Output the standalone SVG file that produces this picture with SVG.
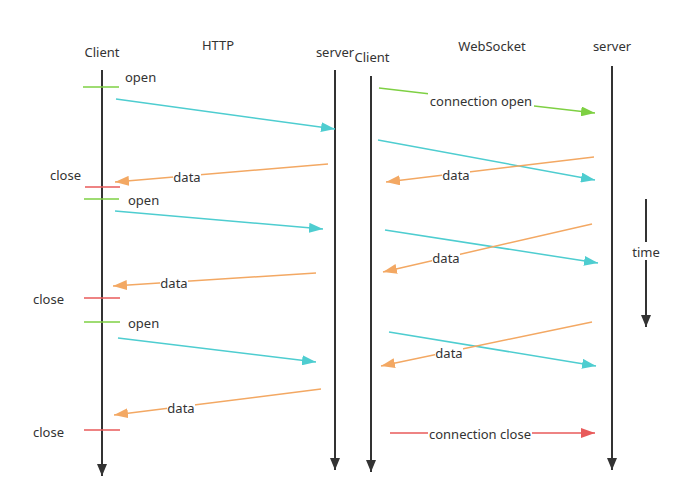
<svg xmlns="http://www.w3.org/2000/svg" width="687" height="497" viewBox="0 0 687 497">
<style>
text{font-family:"Noto Sans","Open Sans","Liberation Sans",sans-serif;font-size:13px;fill:#333}
.life{stroke:#333;stroke-width:2;fill:none}
.c{stroke:#4ECDD0;stroke-width:1.5;fill:none}
.o{stroke:#F3A863;stroke-width:1.5;fill:none}
.g{stroke:#7ED043;stroke-width:1.5;fill:none}
.r{stroke:#E85A5A;stroke-width:1.5;fill:none}
.bg{fill:#fff}
</style>
<defs>
<marker id="ad" viewBox="0 0 12 10" refX="12" refY="5" markerWidth="12" markerHeight="10" markerUnits="userSpaceOnUse" orient="auto"><path d="M0,0L12,5L0,10z" fill="#333"/></marker>
<marker id="ac" viewBox="0 0 14 10" refX="14" refY="5" markerWidth="14" markerHeight="10" markerUnits="userSpaceOnUse" orient="auto"><path d="M0,0L14,5L0,10z" fill="#4ECDD0"/></marker>
<marker id="ao" viewBox="0 0 14 10" refX="14" refY="5" markerWidth="14" markerHeight="10" markerUnits="userSpaceOnUse" orient="auto"><path d="M0,0L14,5L0,10z" fill="#F3A863"/></marker>
<marker id="ag" viewBox="0 0 14 10" refX="14" refY="5" markerWidth="14" markerHeight="10" markerUnits="userSpaceOnUse" orient="auto"><path d="M0,0L14,5L0,10z" fill="#7ED043"/></marker>
<marker id="ar" viewBox="0 0 14 10" refX="14" refY="5" markerWidth="14" markerHeight="10" markerUnits="userSpaceOnUse" orient="auto"><path d="M0,0L14,5L0,10z" fill="#E85A5A"/></marker>
</defs>
<rect width="687" height="497" fill="#fff"/>
<g id="http-client"><text x="102" y="57" text-anchor="middle">Client</text><line class="life" x1="102" y1="70" x2="102" y2="476" marker-end="url(#ad)"/></g>
<g id="http-title"><text x="218" y="50" text-anchor="middle">HTTP</text></g>
<g id="http-server"><text x="335" y="57" text-anchor="middle">server</text><line class="life" x1="335" y1="70" x2="335" y2="470" marker-end="url(#ad)"/></g>
<g id="ws-client"><text x="372" y="62" text-anchor="middle">Client</text><line class="life" x1="371" y1="76" x2="371" y2="472" marker-end="url(#ad)"/></g>
<g id="ws-title"><text x="492" y="51" text-anchor="middle">WebSocket</text></g>
<g id="ws-server"><text x="612" y="51" text-anchor="middle">server</text><line class="life" x1="612" y1="66" x2="612" y2="470" marker-end="url(#ad)"/></g>
<g id="time"><line class="life" x1="646" y1="199" x2="646" y2="327" marker-end="url(#ad)"/><rect class="bg" x="630" y="242" width="32" height="18"/><text x="646" y="257" text-anchor="middle">time</text></g>
<g id="ticks">
<line class="g" x1="83" y1="87" x2="119" y2="87"/><text x="125" y="82">open</text>
<line class="r" x1="85" y1="187" x2="120" y2="187"/><text x="50" y="180">close</text>
<line class="g" x1="84" y1="199" x2="119" y2="199"/><text x="128" y="205">open</text>
<line class="r" x1="84" y1="298" x2="120" y2="298"/><text x="33" y="304">close</text>
<line class="g" x1="84" y1="322" x2="120" y2="322"/><text x="128" y="328">open</text>
<line class="r" x1="84" y1="430" x2="120" y2="430"/><text x="33" y="437">close</text>
</g>
<g id="connectors">
<line class="c" x1="116" y1="99" x2="335" y2="129" marker-end="url(#ac)"/>
<line class="o" x1="328" y1="164" x2="115" y2="182" marker-end="url(#ao)"/>
<line class="c" x1="115" y1="211" x2="323" y2="229" marker-end="url(#ac)"/>
<line class="o" x1="316" y1="273" x2="113" y2="286" marker-end="url(#ao)"/>
<line class="c" x1="118" y1="338" x2="316" y2="362" marker-end="url(#ac)"/>
<line class="o" x1="321" y1="389" x2="114" y2="415" marker-end="url(#ao)"/>
<line class="g" x1="379" y1="88" x2="595" y2="113" marker-end="url(#ag)"/>
<line class="c" x1="378" y1="140" x2="595" y2="180" marker-end="url(#ac)"/>
<line class="o" x1="594" y1="157" x2="386" y2="182" marker-end="url(#ao)"/>
<line class="c" x1="385" y1="230" x2="598" y2="263" marker-end="url(#ac)"/>
<line class="o" x1="592" y1="224" x2="383" y2="272" marker-end="url(#ao)"/>
<line class="c" x1="389" y1="332" x2="596" y2="366" marker-end="url(#ac)"/>
<line class="o" x1="592" y1="322" x2="381" y2="366" marker-end="url(#ao)"/>
<line class="r" x1="390" y1="433" x2="595" y2="433" marker-end="url(#ar)"/>
</g>
<g id="labels">
<rect class="bg" x="173" y="169" width="28" height="16"/><text x="187" y="182" text-anchor="middle">data</text>
<rect class="bg" x="160" y="275" width="28" height="16"/><text x="174" y="288" text-anchor="middle">data</text>
<rect class="bg" x="167" y="400" width="28" height="16"/><text x="181" y="413" text-anchor="middle">data</text>
<rect class="bg" x="428" y="93" width="106" height="16"/><text x="481" y="106" text-anchor="middle">connection open</text>
<rect class="bg" x="442" y="167" width="28" height="16"/><text x="456" y="180" text-anchor="middle">data</text>
<rect class="bg" x="432" y="250" width="28" height="16"/><text x="446" y="263" text-anchor="middle">data</text>
<rect class="bg" x="435" y="345" width="28" height="16"/><text x="449" y="358" text-anchor="middle">data</text>
<rect class="bg" x="428" y="426" width="104" height="16"/><text x="480" y="439" text-anchor="middle">connection close</text>
</g>
</svg>
